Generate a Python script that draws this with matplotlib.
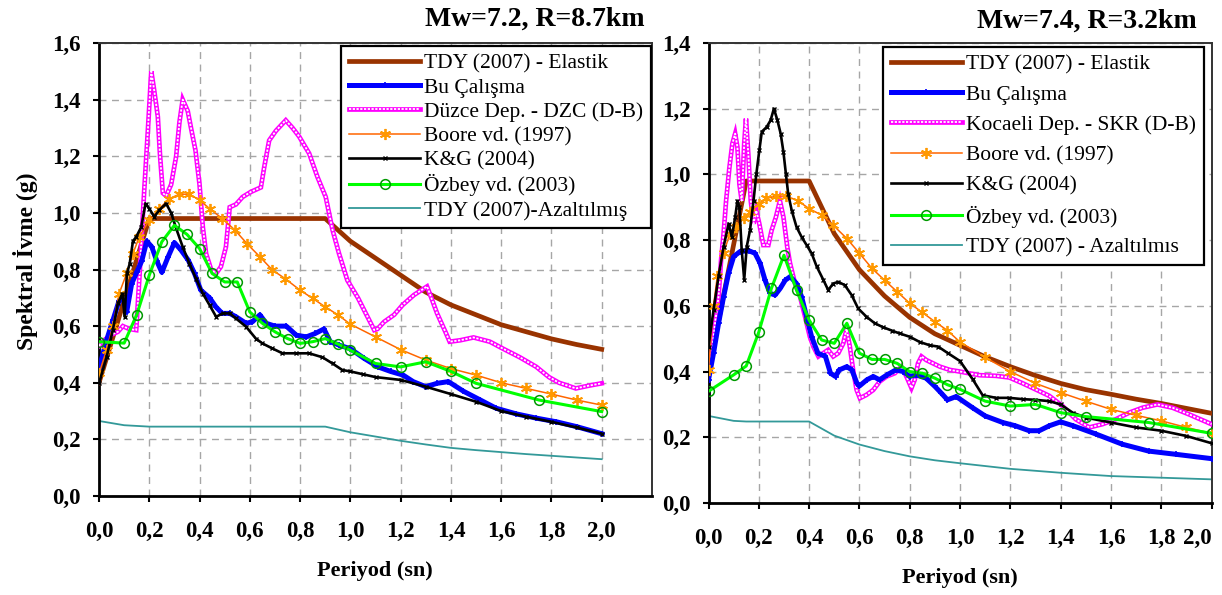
import matplotlib
matplotlib.use('Agg')
import matplotlib.pyplot as plt
from matplotlib.legend_handler import HandlerTuple
from matplotlib.ticker import FuncFormatter, MultipleLocator

plt.rcParams['font.family'] = ['Liberation Serif', 'DejaVu Serif']
plt.rcParams['font.weight'] = 'bold'
plt.rcParams['lines.scale_dashes'] = False

# ---------------- LEFT PANEL DATA (Mw=7.2, R=8.7km) ----------------
L_title = "Mw=7.2, R=8.7km"
L_labels = ["TDY (2007) - Elastik", "Bu Çalışma", "Düzce Dep. - DZC (D-B)",
            "Boore vd. (1997)", "K&G (2004)", "Özbey vd. (2003)",
            "TDY (2007)-Azaltılmış"]

L_tdy_T = [0.0, 0.2, 0.9, 0.95, 1.0, 1.1, 1.2, 1.3, 1.4, 1.5, 1.6, 1.7, 1.8, 1.9, 2.0]
L_tdy = [0.40, 0.98, 0.98, 0.94, 0.90, 0.84, 0.78, 0.72, 0.675, 0.64, 0.605, 0.58, 0.555, 0.535, 0.518]

L_az_T = [0.0, 0.1, 0.2, 0.9, 1.0, 1.1, 1.2, 1.3, 1.4, 1.5, 1.6, 1.7, 1.8, 1.9, 2.0]
L_az = [0.265, 0.25, 0.245, 0.245, 0.225, 0.21, 0.195, 0.182, 0.17, 0.162, 0.155, 0.148, 0.142, 0.136, 0.13]

L_bu_T = [0.0, 0.03, 0.055, 0.08, 0.095, 0.11, 0.13, 0.15, 0.17, 0.19, 0.21, 0.23, 0.25,
          0.275, 0.30, 0.325, 0.355, 0.38, 0.405, 0.44, 0.465, 0.49, 0.52, 0.545, 0.585,
          0.61, 0.64, 0.665, 0.70, 0.745, 0.785, 0.825, 0.86, 0.895, 0.92, 0.955, 1.0,
          1.055, 1.11, 1.16, 1.21, 1.25, 1.30, 1.345, 1.39, 1.45, 1.515, 1.58, 1.66,
          1.74, 1.82, 1.90, 2.0]
L_bu = [0.45, 0.55, 0.62, 0.69, 0.70, 0.65, 0.75, 0.79, 0.83, 0.90, 0.88, 0.83, 0.79,
        0.845, 0.895, 0.87, 0.833, 0.786, 0.727, 0.70, 0.668, 0.645, 0.645, 0.633, 0.61,
        0.615, 0.64, 0.61, 0.60, 0.60, 0.568, 0.562, 0.574, 0.59, 0.545, 0.533, 0.52,
        0.486, 0.456, 0.44, 0.427, 0.404, 0.386, 0.398, 0.404, 0.37, 0.34, 0.31, 0.29,
        0.275, 0.262, 0.245, 0.22]

L_rec_T = [0.0, 0.02, 0.05, 0.075, 0.095, 0.12, 0.148, 0.16, 0.18, 0.195, 0.208, 0.22,
           0.234, 0.243, 0.254, 0.267, 0.287, 0.307, 0.32, 0.333, 0.353, 0.366, 0.384,
           0.40, 0.413, 0.426, 0.446, 0.466, 0.485, 0.505, 0.52, 0.545, 0.571, 0.604,
           0.644, 0.657, 0.677, 0.704, 0.743, 0.77, 0.796, 0.836, 0.869, 0.902, 0.929,
           0.955, 0.988, 1.03, 1.055, 1.095, 1.108, 1.134, 1.174, 1.207, 1.253, 1.305,
           1.318, 1.345, 1.378, 1.395, 1.437, 1.49, 1.555, 1.608, 1.674, 1.74, 1.79,
           1.83, 1.897, 1.95, 2.0]
L_rec = [0.53, 0.55, 0.57, 0.58, 0.60, 0.59, 0.586, 0.76, 1.08, 1.30, 1.50, 1.43, 1.34,
         1.20, 1.07, 1.06, 1.10, 1.20, 1.32, 1.40, 1.36, 1.30, 1.22, 1.10, 0.95, 0.856,
         0.80, 0.786, 0.81, 0.88, 1.02, 1.03, 1.056, 1.074, 1.09, 1.16, 1.256, 1.29,
         1.327, 1.30, 1.27, 1.21, 1.127, 1.056, 0.94, 0.856, 0.762, 0.70, 0.656, 0.586,
         0.59, 0.615, 0.64, 0.674, 0.71, 0.74, 0.71, 0.645, 0.58, 0.545, 0.55, 0.56,
         0.545, 0.52, 0.49, 0.456, 0.42, 0.40, 0.38, 0.39, 0.398]

L_boore_T = [0.0, 0.03, 0.055, 0.08, 0.11, 0.135, 0.16, 0.2, 0.24, 0.28, 0.32, 0.36, 0.40,
             0.44, 0.49, 0.54, 0.59, 0.64, 0.69, 0.74, 0.80, 0.85, 0.90, 0.95, 1.0, 1.1,
             1.2, 1.3, 1.4, 1.5, 1.6, 1.7, 1.8, 1.9, 2.0]
L_boore = [0.433, 0.515, 0.60, 0.715, 0.786, 0.856, 0.915, 0.974, 1.015, 1.05, 1.066,
           1.066, 1.045, 1.015, 0.98, 0.94, 0.89, 0.845, 0.798, 0.768, 0.727, 0.698,
           0.668, 0.64, 0.607, 0.562, 0.517, 0.48, 0.45, 0.427, 0.40, 0.38, 0.36, 0.339,
           0.321]

L_kg_T = [0.0, 0.03, 0.055, 0.075, 0.093, 0.102, 0.111, 0.122, 0.135, 0.148, 0.168, 0.185,
          0.2, 0.22, 0.24, 0.267, 0.287, 0.307, 0.333, 0.36, 0.386, 0.413, 0.44, 0.466,
          0.492, 0.52, 0.545, 0.585, 0.624, 0.65, 0.69, 0.73, 0.783, 0.836, 0.889, 0.929,
          0.968, 1.0, 1.05, 1.1, 1.2, 1.3, 1.4, 1.5, 1.6, 1.7, 1.8, 1.9, 2.0]
L_kg = [0.398, 0.49, 0.586, 0.68, 0.715, 0.633, 0.786, 0.82, 0.90, 0.915, 0.95, 1.033,
        1.015, 0.986, 1.01, 1.033, 1.0, 0.945, 0.88, 0.82, 0.768, 0.715, 0.674, 0.633,
        0.645, 0.645, 0.627, 0.598, 0.556, 0.539, 0.521, 0.504, 0.504, 0.504, 0.49,
        0.468, 0.445, 0.44, 0.43, 0.42, 0.41, 0.386, 0.36, 0.333, 0.30, 0.28, 0.262,
        0.242, 0.22]

L_oz_T = [0.0, 0.1, 0.15, 0.2, 0.25, 0.3, 0.35, 0.4, 0.45, 0.5, 0.55, 0.6, 0.65, 0.7,
          0.75, 0.8, 0.85, 0.9, 0.95, 1.0, 1.1, 1.2, 1.3, 1.4, 1.5, 1.75, 2.0]
L_oz = [0.545, 0.54, 0.64, 0.78, 0.898, 0.956, 0.924, 0.874, 0.786, 0.756, 0.756, 0.65,
        0.61, 0.58, 0.556, 0.539, 0.545, 0.556, 0.537, 0.515, 0.468, 0.456, 0.474, 0.44,
        0.398, 0.339, 0.298]

# ---------------- RIGHT PANEL DATA (Mw=7.4, R=3.2km) ----------------
R_title = "Mw=7.4, R=3.2km"
R_labels = ["TDY (2007) - Elastik", "Bu Çalışma", "Kocaeli Dep. - SKR (D-B)",
            "Boore vd. (1997)", "K&G (2004)", "Özbey vd. (2003)",
            "TDY (2007) - Azaltılmıs"]

R_tdy_T = [0.0, 0.15, 0.4, 0.5, 0.6, 0.7, 0.8, 0.9, 1.0, 1.1, 1.2, 1.3, 1.4, 1.5, 1.6,
           1.7, 1.8, 1.9, 2.0]
R_tdy = [0.40, 0.98, 0.98, 0.82, 0.71, 0.63, 0.565, 0.515, 0.48, 0.445, 0.415, 0.388,
         0.364, 0.345, 0.331, 0.316, 0.303, 0.288, 0.273]

R_az_T = [0.0, 0.1, 0.15, 0.4, 0.5, 0.6, 0.7, 0.8, 0.9, 1.0, 1.2, 1.4, 1.6, 1.8, 2.0]
R_az = [0.265, 0.25, 0.248, 0.248, 0.205, 0.178, 0.158, 0.142, 0.13, 0.121, 0.104,
        0.092, 0.082, 0.077, 0.072]

R_bu_T = [0.0, 0.02, 0.04, 0.06, 0.08, 0.10, 0.125, 0.16, 0.185, 0.205, 0.225, 0.245,
          0.265, 0.285, 0.305, 0.325, 0.35, 0.37, 0.39, 0.41, 0.435, 0.465, 0.485, 0.505,
          0.52, 0.55, 0.57, 0.59, 0.60, 0.63, 0.655, 0.68, 0.71, 0.745, 0.775, 0.80,
          0.825, 0.865, 0.90, 0.925, 0.95, 0.985, 1.05, 1.10, 1.17, 1.22, 1.275, 1.315,
          1.355, 1.40, 1.45, 1.54, 1.645, 1.75, 1.86, 2.0]
R_bu = [0.375, 0.456, 0.547, 0.628, 0.70, 0.75, 0.765, 0.768, 0.76, 0.73, 0.678, 0.638,
        0.633, 0.653, 0.678, 0.689, 0.668, 0.628, 0.567, 0.506, 0.456, 0.446, 0.395,
        0.385, 0.405, 0.415, 0.405, 0.365, 0.356, 0.375, 0.385, 0.375, 0.39, 0.405, 0.40,
        0.385, 0.39, 0.38, 0.355, 0.335, 0.314, 0.324, 0.29, 0.265, 0.245, 0.235, 0.22,
        0.22, 0.235, 0.247, 0.235, 0.21, 0.179, 0.158, 0.148, 0.135]

R_rec_T = [0.0, 0.013, 0.026, 0.04, 0.05, 0.06, 0.07, 0.083, 0.095, 0.106, 0.115, 0.123,
           0.132, 0.142, 0.149, 0.159, 0.168, 0.179, 0.19, 0.202, 0.218, 0.238, 0.251,
           0.268, 0.284, 0.298, 0.313, 0.324, 0.344, 0.364, 0.384, 0.403, 0.417, 0.437,
           0.456, 0.476, 0.496, 0.516, 0.536, 0.549, 0.562, 0.575, 0.589, 0.602, 0.628,
           0.655, 0.681, 0.708, 0.741, 0.767, 0.787, 0.807, 0.82, 0.833, 0.847, 0.866,
           0.893, 0.92, 0.96, 1.0, 1.077, 1.143, 1.196, 1.25, 1.30, 1.355, 1.408, 1.46,
           1.514, 1.567, 1.62, 1.673, 1.726, 1.785, 1.845, 1.91, 2.0]
R_rec = [0.385, 0.456, 0.547, 0.628, 0.74, 0.82, 0.92, 1.02, 1.094, 1.124, 1.083, 0.97,
         0.92, 1.094, 1.17, 1.053, 0.92, 0.85, 0.89, 0.85, 0.785, 0.785, 0.83, 0.87, 0.92,
         0.87, 0.78, 0.73, 0.668, 0.628, 0.567, 0.506, 0.476, 0.446, 0.456, 0.466, 0.446,
         0.456, 0.486, 0.53, 0.476, 0.405, 0.344, 0.319, 0.329, 0.344, 0.37, 0.385, 0.395,
         0.415, 0.385, 0.35, 0.375, 0.425, 0.446, 0.435, 0.425, 0.415, 0.405, 0.40, 0.389,
         0.387, 0.382, 0.364, 0.346, 0.326, 0.295, 0.255, 0.23, 0.24, 0.255, 0.275, 0.29,
         0.30, 0.29, 0.27, 0.24]

R_boore_T = [0.0, 0.02, 0.035, 0.06, 0.085, 0.11, 0.14, 0.165, 0.2, 0.23, 0.27, 0.31,
             0.355, 0.40, 0.45, 0.495, 0.55, 0.60, 0.65, 0.70, 0.75, 0.80, 0.85, 0.90,
             0.95, 1.0, 1.1, 1.2, 1.3, 1.4, 1.5, 1.6, 1.7, 1.8, 1.9, 2.0]
R_boore = [0.405, 0.60, 0.69, 0.76, 0.82, 0.84, 0.866, 0.886, 0.91, 0.927, 0.934, 0.934,
           0.92, 0.896, 0.876, 0.846, 0.805, 0.76, 0.714, 0.678, 0.643, 0.608, 0.58,
           0.552, 0.525, 0.49, 0.443, 0.40, 0.364, 0.336, 0.31, 0.285, 0.267, 0.25, 0.23,
           0.212]

R_kg_T = [0.0, 0.02, 0.04, 0.06, 0.08, 0.093, 0.106, 0.115, 0.123, 0.132, 0.142, 0.152,
          0.165, 0.179, 0.19, 0.202, 0.212, 0.231, 0.247, 0.26, 0.274, 0.287, 0.298,
          0.308, 0.317, 0.331, 0.35, 0.37, 0.39, 0.41, 0.43, 0.456, 0.476, 0.496, 0.516,
          0.542, 0.569, 0.595, 0.628, 0.661, 0.694, 0.728, 0.76, 0.80, 0.84, 0.88, 0.913,
          0.952, 1.0, 1.05, 1.09, 1.143, 1.196, 1.25, 1.30, 1.355, 1.40, 1.448, 1.50, 1.60,
          1.70, 1.80, 1.90, 2.0]
R_kg = [0.476, 0.587, 0.69, 0.78, 0.85, 0.81, 0.87, 0.92, 0.90, 0.77, 0.68, 0.78, 0.83,
        0.92, 1.0, 1.073, 1.13, 1.144, 1.165, 1.2, 1.165, 1.124, 1.068, 1.0, 0.94, 0.89,
        0.84, 0.81, 0.785, 0.76, 0.72, 0.68, 0.648, 0.668, 0.673, 0.663, 0.633, 0.592,
        0.567, 0.547, 0.535, 0.525, 0.516, 0.506, 0.49, 0.48, 0.476, 0.456, 0.432, 0.377,
        0.328, 0.32, 0.32, 0.316, 0.314, 0.31, 0.30, 0.275, 0.26, 0.245, 0.23, 0.22,
        0.204, 0.182]

R_oz_T = [0.0, 0.1, 0.15, 0.2, 0.25, 0.3, 0.35, 0.4, 0.45, 0.5, 0.55, 0.6, 0.65, 0.7,
          0.75, 0.8, 0.85, 0.9, 0.95, 1.0, 1.1, 1.2, 1.3, 1.4, 1.5, 1.75, 2.0]
R_oz = [0.34, 0.39, 0.417, 0.52, 0.653, 0.754, 0.648, 0.557, 0.496, 0.486, 0.547, 0.456,
        0.437, 0.437, 0.425, 0.40, 0.395, 0.38, 0.36, 0.346, 0.31, 0.295, 0.30, 0.275,
        0.263, 0.245, 0.212]

X_TICKS = [0.0, 0.2, 0.4, 0.6, 0.8, 1.0, 1.2, 1.4, 1.6, 1.8, 2.0]

# ---------------- STYLES ----------------
C_BROWN = '#993300'
C_BLUE = '#0000FF'
C_MAG = '#FF00FF'
C_ORANGE = '#FF6600'
C_ORMK = '#FF9900'
C_GREEN = '#00FF00'
C_TEAL = '#339999'
ASTER = (6, 2, 0)

W, H = 1222, 595
fig = plt.figure(figsize=(W / 100, H / 100), dpi=100)
fig.patch.set_facecolor('white')

comma = FuncFormatter(lambda v, p: f"{v:.1f}".replace('.', ','))


def panel(ax, d, xmax, ymax, labels, leg_anchor, leg_spacing):
    ax.set_xlim(0, xmax)
    ax.set_ylim(0, ymax)
    ax.set_xticks(X_TICKS)
    ax.yaxis.set_major_locator(MultipleLocator(0.2))
    ax.xaxis.set_major_formatter(comma)
    ax.yaxis.set_major_formatter(comma)
    ax.grid(True, color='#a6a6a6', linestyle=(0, (5, 4)), linewidth=1.0)
    ax.set_axisbelow(True)
    for s in ('left', 'bottom'):
        ax.spines[s].set_linewidth(2.0)
        ax.spines[s].set_color('black')
    for s in ('top', 'right'):
        ax.spines[s].set_linewidth(1.4)
        ax.spines[s].set_color('#333333')
    ax.tick_params(axis='both', direction='out', length=4, width=1.5,
                   labelsize=16.5, colors='black')
    ax.tick_params(axis='x', pad=14)
    ax.tick_params(axis='y', pad=9)

    h_az, = ax.plot(d['az_T'], d['az'], color=C_TEAL, lw=1.3, zorder=2)
    h_tdy, = ax.plot(d['tdy_T'], d['tdy'], color=C_BROWN, lw=3.4, zorder=3)
    h_rec1, = ax.plot(d['rec_T'], d['rec'], color=C_MAG, lw=3.4, zorder=4,
                      solid_joinstyle='miter')
    h_rec2, = ax.plot(d['rec_T'], d['rec'], color='white', lw=1.3, zorder=4.1,
                      dashes=(1.6, 1.1))
    h_bu, = ax.plot(d['bu_T'], d['bu'], color=C_BLUE, lw=3.6, marker='+', ms=5,
                    mew=1.2, zorder=5)
    h_boore, = ax.plot(d['boore_T'], d['boore'], color=C_ORANGE, lw=1.1,
                       marker=ASTER, ms=8, mec=C_ORMK, mfc=C_ORMK, mew=1.3, zorder=6)
    h_kg, = ax.plot(d['kg_T'], d['kg'], color='black', lw=1.9, marker='x', ms=3.5,
                    mew=1.0, zorder=7)
    h_oz, = ax.plot(d['oz_T'], d['oz'], color=C_GREEN, lw=2.2, marker='o', ms=7,
                    mfc='none', mec='#009900', mew=1.1, zorder=8)

    handles = [h_tdy, h_bu, (h_rec1, h_rec2), h_boore, h_kg, h_oz, h_az]
    leg = ax.legend(handles, labels, loc='upper right', bbox_to_anchor=leg_anchor,
                    bbox_transform=fig.transFigure,
                    prop={'size': 15.5, 'weight': 'normal'}, frameon=True,
                    fancybox=False, edgecolor='black', framealpha=1, borderpad=0.35,
                    labelspacing=leg_spacing, handlelength=3.3, handletextpad=0.2,
                    borderaxespad=0, numpoints=1,
                    handler_map={tuple: HandlerTuple(ndivide=1, pad=0)})
    leg.get_frame().set_linewidth(1.6)
    leg.set_zorder(20)
    return ax


axL = fig.add_axes([99 / W, (H - 496) / H, 553 / W, 453 / H])
axR = fig.add_axes([708.5 / W, (H - 503) / H, 503 / W, 460 / H])

dL = dict(tdy_T=L_tdy_T, tdy=L_tdy, az_T=L_az_T, az=L_az, bu_T=L_bu_T, bu=L_bu,
          rec_T=L_rec_T, rec=L_rec, boore_T=L_boore_T, boore=L_boore, kg_T=L_kg_T,
          kg=L_kg, oz_T=L_oz_T, oz=L_oz)
dR = dict(tdy_T=R_tdy_T, tdy=R_tdy, az_T=R_az_T, az=R_az, bu_T=R_bu_T, bu=R_bu,
          rec_T=R_rec_T, rec=R_rec, boore_T=R_boore_T, boore=R_boore, kg_T=R_kg_T,
          kg=R_kg, oz_T=R_oz_T, oz=R_oz)

panel(axL, dL, 2.2, 1.6, L_labels, (651 / W, 1 - 46 / H), 0.19)
panel(axR, dR, 2.0, 1.4, R_labels, (1203.5 / W, 1 - 47 / H), 0.47)

# last x tick label of the right panel sits inside the frame
fig.canvas.draw()
lbls = axR.get_xticklabels()
lbls[-1].set_horizontalalignment('right')

fig.text(645 / W, 1 - 19 / H, L_title, ha='right', va='center', fontsize=20,
         fontweight='bold')
fig.text(1197 / W, 1 - 21 / H, R_title, ha='right', va='center', fontsize=20,
         fontweight='bold')
fig.text(25 / W, 1 - 261 / H, 'Spektral İvme (g)', rotation=90, ha='center',
         va='center', fontsize=17, fontweight='bold')
fig.text(375 / W, 1 - 571 / H, 'Periyod (sn)', ha='center', va='center', fontsize=16,
         fontweight='bold')
fig.text(960 / W, 1 - 578 / H, 'Periyod (sn)', ha='center', va='center', fontsize=16,
         fontweight='bold')

fig.savefig('out.png', dpi=100, facecolor='white')
